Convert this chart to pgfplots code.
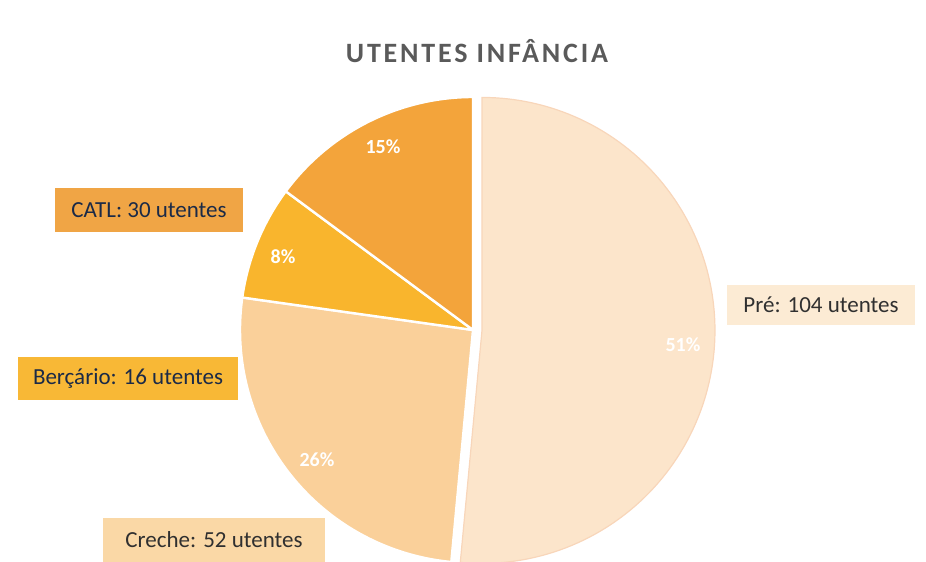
\documentclass[border=0pt]{standalone}
\usepackage{pgfplots}
\pgfplotsset{compat=1.18}
\usepackage{fontspec}
\setmainfont{Carlito}
\newfontfamily\titlefont[LetterSpace=10]{Carlito}
\definecolor{catl}{HTML}{F3A43B}
\definecolor{catlbox}{HTML}{F0A545}
\definecolor{berc}{HTML}{F9B52D}
\definecolor{bercbox}{HTML}{F8B836}
\definecolor{creche}{HTML}{FAD09A}
\definecolor{crechebox}{HTML}{FAD8A6}
\definecolor{pre}{HTML}{FCE5CB}
\definecolor{prebox}{HTML}{FCEBD4}
\definecolor{preedge}{HTML}{F8D6BA}
\definecolor{navy}{HTML}{1B2A47}
\definecolor{dgray}{HTML}{303030}
\definecolor{tgray}{HTML}{5A5A5A}
% values
\def\vPre{104}\def\vCreche{52}\def\vBerc{16}\def\vCatl{30}
\pgfmathsetmacro{\tot}{\vPre+\vCreche+\vBerc+\vCatl}
\pgfmathsetmacro{\aA}{90}
\pgfmathsetmacro{\aB}{\aA-360*(\vPre/\tot)}
\pgfmathsetmacro{\aC}{\aB-360*(\vCreche/\tot)}
\pgfmathsetmacro{\aD}{\aC-360*(\vBerc/\tot)}
\pgfmathsetmacro{\aE}{\aD-360*(\vCatl/\tot)}
\pgfmathsetmacro{\bis}{(\aA+\aB)/2}
\pgfmathsetmacro{\ox}{473+9*cos(\bis)}
\pgfmathsetmacro{\oy}{232+9*sin(\bis)}
\begin{document}
\begin{tikzpicture}
\useasboundingbox (0,0) rectangle (463pt,281pt);
\begin{axis}[
  at={(0,0)}, anchor=south west,
  scale only axis, width=463pt, height=281pt,
  xmin=0, xmax=926, ymin=0, ymax=562,
  hide axis, clip=true,
]
% Pre (exploded)
\addplot[fill=pre, draw=preedge, line width=0.6pt, domain=\aB:\aA, samples=120, variable=\t]
  ({\ox+233*cos(t)}, {\oy+233*sin(t)}) -- (axis cs:\ox,\oy) -- cycle;
% Creche
\addplot[fill=creche, draw=white, line width=1.2pt, domain=\aC:\aB, samples=80, variable=\t]
  ({473+233*cos(t)}, {232+233*sin(t)}) -- (axis cs:473,232) -- cycle;
% Bercario
\addplot[fill=berc, draw=white, line width=1.2pt, domain=\aD:\aC, samples=40, variable=\t]
  ({473+233*cos(t)}, {232+233*sin(t)}) -- (axis cs:473,232) -- cycle;
% CATL
\addplot[fill=catl, draw=white, line width=1.2pt, domain=\aE:\aD, samples=60, variable=\t]
  ({473+233*cos(t)}, {232+233*sin(t)}) -- (axis cs:473,232) -- cycle;
% percentages
\node[text=white, font=\bfseries\fontsize{10}{11}\selectfont] at (axis cs:383,415) {15\%};
\node[text=white, font=\bfseries\fontsize{10}{11}\selectfont] at (axis cs:283,305) {8\%};
\node[text=white, font=\bfseries\fontsize{10}{11}\selectfont] at (axis cs:317,102) {26\%};
\node[text=white, font=\bfseries\fontsize{10}{11}\selectfont] at (axis cs:683,217) {51\%};
% label boxes
\node[fill=catlbox, minimum width=94pt, minimum height=22pt, inner sep=0pt, text=navy, font=\fontsize{11.5}{12}\selectfont] at (axis cs:149,352) {CATL: 30 utentes};
\node[fill=bercbox, minimum width=110pt, minimum height=21.5pt, inner sep=0pt, text=navy, font=\fontsize{11.5}{12}\selectfont] at (axis cs:128,183.5) {Berçário: 16 utentes};
\node[fill=crechebox, minimum width=111pt, minimum height=22pt, inner sep=0pt, text=dgray, font=\fontsize{11.5}{12}\selectfont] at (axis cs:214,22) {Creche: 52 utentes};
\node[fill=prebox, minimum width=94pt, minimum height=20pt, inner sep=0pt, text=dgray, font=\fontsize{11.5}{12}\selectfont] at (axis cs:821,257) {Pré: 104 utentes};
% title
\node[text=tgray, font=\titlefont\bfseries\fontsize{14}{16}\selectfont] at (axis cs:477,511) {UTENTES INFÂNCIA};
\end{axis}
\end{tikzpicture}
\end{document}
